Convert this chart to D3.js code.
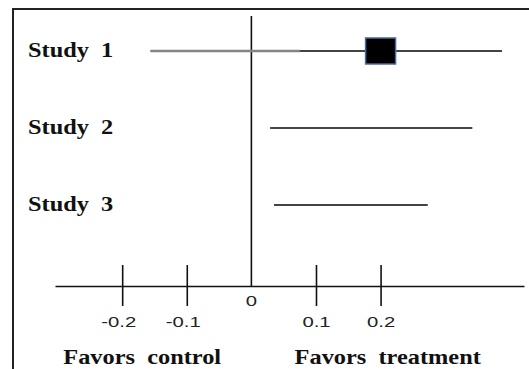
<!DOCTYPE html>
<html>
<head>
<meta charset="utf-8">
<script src="https://cdn.jsdelivr.net/npm/d3@7"></script>
<style>
    body { margin: 0; background: white; }
    text { white-space: pre; }
</style>
</head>
<body>
<div id="container"></div>
<script>
// forest plot data
const studies = ["Study  1", "Study  2", "Study  3"]
const lower = [-0.156, 0.029, 0.035]
const upper = [0.388, 0.342, 0.273]
const estimate = [0.2, null, null]
const fadedTo = [0.075, null, null] // study 1 line is lighter on its left part
const tickVals = [-0.2, -0.1, 0.1, 0.2]
const sideLabels = ["Favors  control", "Favors  treatment"]
const sideAt = [-0.169, 0.211]

const w = 529
const h = 369
const axisY = 286
const serif = "'Liberation Serif', 'Times New Roman', Times, 'DejaVu Serif', serif"
const sans = "'Liberation Sans', Arial, Helvetica, sans-serif"

const svg = d3.select("#container")
    .append("svg")
    .attr("width", w)
    .attr("height", h)
    .style("display", "block")

// frame (right and bottom run off the picture)
svg.append("rect")
    .attr("x", 13)
    .attr("y", 9)
    .attr("width", 530)
    .attr("height", 380)
    .attr("fill", "none")
    .attr("stroke", "#222")
    .attr("stroke-width", 2)

const xScale = d3.scaleLinear()
    .domain([-0.304, 0.422])
    .range([55, 524])
const yScale = d3.scalePoint()
    .domain(studies)
    .range([51, 205])

const rows = studies.map((s, i) => ({
    name: s, lo: lower[i], hi: upper[i], est: estimate[i], fade: fadedTo[i]
}))

// zero line
svg.append("line")
    .attr("x1", xScale(0)).attr("x2", xScale(0))
    .attr("y1", 16).attr("y2", axisY)
    .attr("stroke", "#111")
    .attr("stroke-width", 1.6)

// axis
const xAxis = d3.axisBottom(xScale)
    .tickValues(tickVals)
    .tickSize(20)
    .tickSizeOuter(0)
    .tickFormat((d) => d.toFixed(1)) // plain hyphen, not unicode minus

const gx = svg.append("g")
    .attr("transform", `translate(0, ${axisY})`)
    .call(xAxis)
gx.select(".domain").attr("stroke", "#111").attr("stroke-width", 1.6)
gx.selectAll(".tick line")
    .attr("y1", -21)
    .attr("stroke", "#111")
    .attr("stroke-width", 1.6)
gx.selectAll(".tick text")
    .attr("x", null)
    .attr("y", null)
    .attr("dy", null)
    .attr("transform", (d) => `translate(${d < 0 ? -4 : 0}, 41) scale(1.4, 1)`)
    .attr("text-anchor", "middle")
    .attr("fill", "#222")
    .attr("font-family", null)
    .attr("font-size", null)
    .style("font-family", sans)
    .style("font-size", "14.5px")

svg.append("text")
    .attr("transform", `translate(${xScale(0)}, ${axisY + 20}) scale(1.4, 1)`)
    .attr("text-anchor", "middle")
    .attr("fill", "#222")
    .style("font-family", sans)
    .style("font-size", "14.5px")
    .text("0")

// confidence interval lines
svg.selectAll("line.ci")
    .data(rows)
    .enter()
    .append("line")
    .classed("ci", true)
    .attr("x1", (d) => xScale(d.lo))
    .attr("x2", (d) => xScale(d.hi))
    .attr("y1", (d) => yScale(d.name))
    .attr("y2", (d) => yScale(d.name))
    .attr("stroke", "#444")
    .attr("stroke-width", 2.2)

svg.selectAll("line.fade")
    .data(rows.filter((d) => d.fade !== null))
    .enter()
    .append("line")
    .classed("fade", true)
    .attr("x1", (d) => xScale(d.lo))
    .attr("x2", (d) => xScale(d.fade))
    .attr("y1", (d) => yScale(d.name))
    .attr("y2", (d) => yScale(d.name))
    .attr("stroke", "#858585")
    .attr("stroke-width", 2.4)

// point estimate
const sqW = 30
const sqH = 26
svg.selectAll("rect.est")
    .data(rows.filter((d) => d.est !== null))
    .enter()
    .append("rect")
    .classed("est", true)
    .attr("x", (d) => xScale(d.est) - sqW / 2)
    .attr("y", (d) => yScale(d.name) - sqH / 2)
    .attr("width", sqW)
    .attr("height", sqH)
    .attr("fill", "#000")
    .attr("stroke", "#4a6a9a")
    .attr("stroke-width", 1.5)

// study labels
svg.selectAll("text.study")
    .data(rows)
    .enter()
    .append("text")
    .classed("study", true)
    .attr("transform", (d) => `translate(28, ${yScale(d.name) + 6}) scale(1.16, 1)`)
    .attr("fill", "#111")
    .style("font-family", serif)
    .style("font-weight", "bold")
    .style("font-size", "21px")
    .text((d) => d.name)

// bottom labels
svg.selectAll("text.side")
    .data(sideLabels)
    .enter()
    .append("text")
    .classed("side", true)
    .attr("transform", (d, i) => `translate(${xScale(sideAt[i])}, 364) scale(1.16, 1)`)
    .attr("text-anchor", "middle")
    .attr("fill", "#111")
    .style("font-family", serif)
    .style("font-weight", "bold")
    .style("font-size", "21px")
    .text((d) => d)
</script>
</body>
</html>
